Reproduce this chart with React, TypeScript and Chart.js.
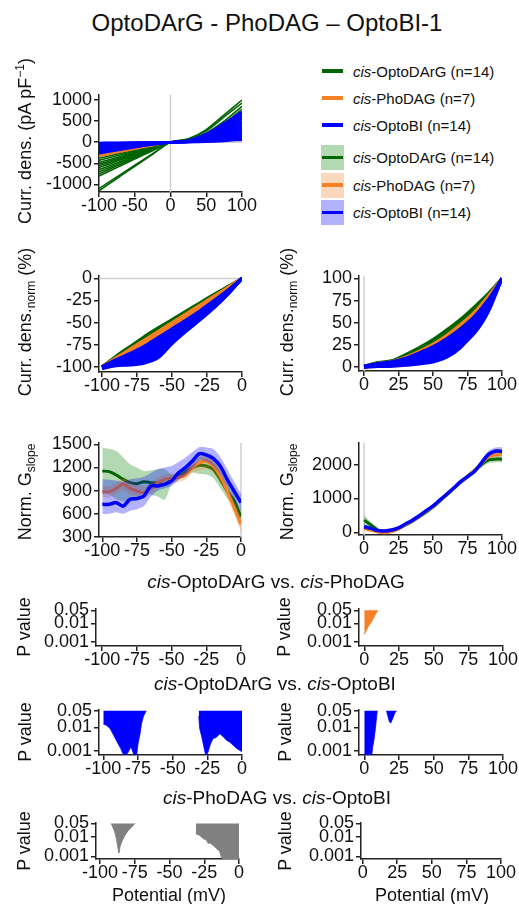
import React, { useEffect, useRef } from "react";
import { Chart, registerables } from "chart.js";

Chart.register(...registerables);

const FONT = "'Liberation Sans', Arial, sans-serif";
const GREEN = "rgb(0,100,0)";
const ORANGE = "rgb(245,128,37)";
const BLUE = "rgb(0,0,255)";
const GRAY = "rgb(128,128,128)";
const GREEN_BAND = "rgba(0,128,0,0.3)";
const ORANGE_BAND = "rgba(245,128,37,0.3)";
const BLUE_BAND = "rgba(0,0,255,0.3)";
const AXIS_COLOR = "#222";
const ZERO_COLOR = "#cfcfcf";

// ---------- tick labels ----------
const TICKS_IV_X = [-100, -50, 0, 50, 100];
const TICKS_IV_Y = [-1000, -500, 0, 500, 1000];
const TICKS_NEG_X = [-100, -75, -50, -25, 0];
const TICKS_POS_X = [0, 25, 50, 75, 100];
const TICKS_NORM_NEG_Y = [-100, -75, -50, -25, 0];
const TICKS_NORM_POS_Y = [0, 25, 50, 75, 100];
const TICKS_G_NEG_Y = [300, 600, 900, 1200, 1500];
const TICKS_G_POS_Y = [0, 1000, 2000];
const TICKS_P = [0.001, 0.01, 0.05];

// ---------- IV traces (pA/pF) ----------
const X_IV = [-100, -75, -50, -25, 0, 25, 50, 75, 100];
const IV_GREEN = [
  [-1150, -860, -570, -285, 0, 80, 300, 650, 1000],
  [-1100, -820, -545, -270, 0, 70, 270, 600, 930],
  [-800, -600, -400, -200, 0, 55, 220, 500, 850],
  [-750, -560, -375, -185, 0, 50, 200, 450, 780],
  [-700, -525, -350, -175, 0, 45, 180, 410, 700],
  [-650, -490, -325, -160, 0, 42, 170, 390, 680],
  [-600, -450, -300, -150, 0, 38, 150, 340, 600],
  [-560, -420, -280, -140, 0, 34, 135, 310, 560],
  [-520, -390, -260, -130, 0, 30, 120, 280, 500],
  [-480, -360, -240, -120, 0, 27, 105, 250, 450],
  [-430, -320, -215, -105, 0, 24, 95, 220, 400],
  [-380, -285, -190, -95, 0, 20, 80, 190, 350],
  [-330, -250, -165, -80, 0, 18, 70, 160, 300],
  [-300, -225, -150, -75, 0, 15, 60, 140, 250],
];
const IV_ORANGE = [
  [-340, -250, -165, -80, 0, 20, 80, 170, 300],
  [-310, -230, -150, -72, 0, 18, 70, 150, 270],
  [-280, -205, -135, -65, 0, 15, 60, 130, 240],
  [-250, -185, -120, -58, 0, 12, 50, 110, 210],
  [-220, -160, -105, -50, 0, 10, 40, 95, 180],
  [-200, -145, -95, -45, 0, 8, 35, 80, 150],
  [-180, -130, -85, -40, 0, 6, 30, 65, 120],
];
const IV_BLUE = [
  [-260, -190, -120, -55, 0, 40, 200, 450, 720],
  [-240, -175, -110, -50, 0, 35, 180, 420, 680],
  [-220, -160, -100, -45, 0, 30, 160, 380, 620],
  [-200, -145, -90, -40, 0, 25, 140, 340, 560],
  [-180, -130, -80, -35, 0, 25, 120, 300, 500],
  [-160, -115, -70, -30, 0, 20, 100, 260, 450],
  [-140, -100, -60, -25, 0, 20, 90, 230, 400],
  [-120, -85, -50, -22, 0, 15, 80, 200, 350],
  [-100, -70, -42, -18, 0, 12, 65, 170, 300],
  [-80, -55, -35, -15, 0, 10, 55, 140, 250],
  [-60, -42, -26, -11, 0, 8, 40, 110, 200],
  [-45, -32, -20, -8, 0, 6, 30, 80, 150],
  [-30, -20, -12, -5, 0, 4, 20, 55, 100],
  [-15, -10, -6, -3, 0, 2, 10, 30, 60],
];

// ---------- normalized current density (%) ----------
const X_NORM_NEG = [-100, -90, -80, -70, -60, -50, -40, -30, -20, -10, 0];
const NORM_NEG_GREEN = [
  [-100, -88, -77, -66, -56, -46.5, -37, -27.5, -18, -9, 0],
  [-100, -89, -78, -67.5, -57, -48, -38, -28.5, -19, -9.5, 0],
  [-100, -90, -79, -69, -59, -49, -39.5, -29.5, -20, -10, 0],
  [-100, -91, -81, -71, -61, -51, -41, -31, -21, -10.5, 0],
  [-100, -92, -83, -73, -63, -53, -43, -32.5, -22, -11, 0],
];
const NORM_NEG_ORANGE = [
  [-100, -90, -80, -70, -60, -50, -40, -30, -20, -10, 0],
  [-100, -91.5, -82, -72, -62, -52, -42, -31.5, -21, -10.5, 0],
  [-100, -93, -84, -75, -65, -55, -44.5, -33.5, -22.5, -11.5, 0],
  [-100, -94, -86, -77, -67, -57, -46, -35, -23.5, -12, 0],
];
const NORM_NEG_BLUE = [
  [-100, -92, -85, -77, -67, -57, -47, -36.5, -25, -13, 0],
  [-100, -92.7, -86.3, -79, -69.7, -58.9, -48.4, -37.7, -25.9, -13.5, 0],
  [-100.4, -93.4, -87.6, -81, -72.4, -60.8, -49.8, -38.8, -26.8, -14, 0],
  [-100.6, -94.1, -88.9, -83, -75.1, -62.7, -51.2, -40, -27.7, -14.5, 0],
  [-100.8, -94.8, -90.2, -85, -77.8, -64.6, -52.6, -41.1, -28.6, -15, 0],
  [-101, -95.5, -91.5, -87, -80.5, -66.5, -54, -42.3, -29.5, -15.5, 0],
  [-101.2, -96.2, -92.8, -88.5, -81.5, -68, -55.4, -43.4, -30.4, -16, 0],
  [-101.4, -96.9, -94.1, -90, -83, -69.5, -56.8, -44.6, -31.3, -16.5, 0],
  [-101.6, -97.6, -95.4, -92, -85, -71, -58, -45.7, -32.2, -17, 0],
  [-101.8, -98.3, -96.7, -94, -87.5, -72.5, -59, -46.5, -33, -17.5, 0],
  [-102, -99, -98, -96, -90, -74, -60, -47, -33.5, -18, 0],
];
const X_NORM_POS = [0, 10, 20, 30, 40, 50, 60, 70, 80, 90, 100];
const NORM_POS_GREEN = [
  [1, 5, 7, 14, 22, 31, 42, 54, 68, 83, 100],
  [1, 4.5, 6.5, 12, 20, 28, 39, 51, 65, 81, 100],
  [0.5, 4, 6, 11, 18, 26, 36, 48, 62, 80, 100],
  [0.5, 3.5, 5.5, 10, 16, 24, 34, 46, 60, 78, 100],
];
const NORM_POS_ORANGE = [
  [1, 4, 6, 11, 18, 26, 36, 48, 62, 80, 100],
  [0.5, 3.5, 5, 9, 15, 22, 31, 42, 56, 76, 100],
  [0, 2, 3, 6, 10, 16, 24, 35, 49, 71, 100],
  [0, 0.5, 1, 2, 4, 7, 13, 24, 40, 66, 100],
];
const NORM_POS_BLUE = [
  [1, 4, 6, 10, 16, 23, 32, 43, 57, 76, 100],
  [0.8, 3.5, 5.2, 9, 14.5, 21, 29.5, 40, 54, 74, 100],
  [0.5, 3, 4.5, 8, 13, 19, 27, 37, 51, 72, 100],
  [0.2, 2.5, 3.7, 7, 11.5, 17, 24.5, 34, 48, 69.5, 100],
  [0, 2, 3, 6, 10, 15, 22, 31, 45, 67, 100],
  [0, 1.5, 2.5, 5, 8.5, 13, 19.5, 28, 41.5, 64.5, 100],
  [0, 1, 2, 4, 7, 11, 17, 25, 38, 62, 100],
  [0, 0.7, 1.5, 3, 5.2, 8.2, 14, 23.5, 39, 64.5, 100],
  [0, 0.5, 1, 2, 3.5, 5.5, 11, 22, 40, 67, 100],
];

// ---------- normalized slope conductance (mean, upper, lower) ----------
const X_G_NEG = [-100, -95, -90, -85, -80, -75, -70, -65, -60, -55, -50, -45, -40, -35, -30, -25, -20, -15, -10, -5, 0];
const G_NEG_GREEN_MEAN = [1155, 1146, 1103, 1047, 1004, 991, 1017, 1004, 1000, 982, 1047, 1090, 1142, 1198, 1228, 1219, 1176, 1047, 896, 766, 560];
const G_NEG_GREEN_UP = [1457, 1440, 1414, 1330, 1241, 1200, 1155, 1160, 1176, 1180, 1110, 1140, 1195, 1260, 1340, 1330, 1290, 1160, 990, 850, 640];
const G_NEG_GREEN_LO = [853, 852, 792, 764, 767, 782, 879, 848, 824, 784, 984, 1040, 1089, 1136, 1116, 1108, 1062, 934, 802, 682, 480];
const G_NEG_ORANGE_MEAN = [887, 887, 930, 985, 930, 896, 874, 930, 1004, 1047, 1060, 1070, 1103, 1198, 1263, 1284, 1219, 1090, 896, 680, 464];
const G_NEG_ORANGE_UP = [960, 960, 1000, 1060, 1010, 970, 950, 1000, 1070, 1110, 1120, 1130, 1170, 1270, 1340, 1360, 1300, 1170, 980, 770, 560];
const G_NEG_ORANGE_LO = [815, 815, 860, 910, 850, 820, 800, 860, 940, 985, 1000, 1010, 1040, 1130, 1160, 1180, 1130, 1010, 810, 590, 370];
const G_NEG_BLUE_MEAN = [723, 723, 745, 700, 788, 797, 831, 960, 960, 982, 1025, 1133, 1198, 1284, 1379, 1362, 1319, 1219, 1047, 896, 745];
const G_NEG_BLUE_UP = [1047, 1040, 1030, 1020, 1047, 1060, 1080, 1130, 1176, 1200, 1219, 1270, 1330, 1400, 1465, 1460, 1440, 1340, 1180, 1020, 860];
const G_NEG_BLUE_LO = [594, 600, 620, 600, 640, 660, 700, 820, 900, 930, 960, 1040, 1100, 1180, 1290, 1280, 1220, 1120, 950, 790, 640];

const X_G_POS = [0, 5, 10, 15, 20, 25, 30, 35, 40, 45, 50, 55, 60, 65, 70, 75, 80, 85, 90, 95, 100];
const G_POS_GREEN_MEAN = [361, 215, 68, 20, 39, 117, 215, 330, 459, 600, 751, 930, 1112, 1300, 1483, 1650, 1824, 2000, 2137, 2166, 2166];
const G_POS_GREEN_UP = [511, 300, 130, 70, 90, 170, 275, 395, 525, 670, 825, 1005, 1190, 1380, 1565, 1735, 1910, 2090, 2230, 2260, 2260];
const G_POS_GREEN_LO = [211, 130, 10, -30, -10, 65, 155, 265, 395, 530, 680, 855, 1035, 1220, 1400, 1565, 1740, 1910, 2045, 2070, 2070];
const G_POS_ORANGE_MEAN = [117, 60, 10, -10, 20, 100, 220, 340, 470, 620, 760, 940, 1120, 1310, 1490, 1660, 1830, 2030, 2230, 2290, 2312];
const G_POS_ORANGE_UP = [180, 110, 55, 35, 65, 145, 270, 390, 520, 670, 810, 990, 1170, 1360, 1540, 1710, 1880, 2080, 2290, 2360, 2390];
const G_POS_ORANGE_LO = [55, 10, -35, -55, -25, 55, 170, 290, 420, 570, 710, 890, 1070, 1260, 1440, 1610, 1780, 1980, 2170, 2220, 2235];
const G_POS_BLUE_MEAN = [166, 117, 49, 40, 68, 130, 244, 360, 490, 640, 780, 960, 1130, 1310, 1500, 1650, 1800, 2050, 2300, 2400, 2400];
const G_POS_BLUE_UP = [230, 170, 95, 85, 110, 175, 290, 405, 535, 685, 825, 1005, 1175, 1355, 1545, 1700, 1860, 2130, 2400, 2510, 2520];
const G_POS_BLUE_LO = [100, 65, 5, -5, 25, 85, 198, 315, 445, 595, 735, 915, 1085, 1265, 1455, 1600, 1740, 1970, 2200, 2290, 2280];

// ---------- P values (significant stretches only) ----------
const P_DP_POS_X = [0, 1, 2, 3, 4, 5, 6, 7, 8, 9, 10];
const P_DP_POS_P = [0.0024, 0.0035, 0.0049, 0.007, 0.009, 0.011, 0.016, 0.021, 0.03, 0.041, 0.05];

const P_DB_NEG1_X = [-100, -97.5, -95, -92.5, -90, -87.5, -85, -82.5, -80, -77.5, -76, -75, -73.5, -72.5, -71, -69];
const P_DB_NEG1_P = [0.014, 0.012, 0.0087, 0.0046, 0.0024, 0.0013, 0.0006, 0.0008, 0.0015, 0.0006, 0.0006, 0.002, 0.0054, 0.014, 0.03, 0.05];
const P_DB_NEG2_X = [-31.2, -30.5, -29, -27.5, -26, -24.5, -23, -21, -18.5, -16, -13.5, -11, -9, -6.5, -4, -2, 0];
const P_DB_NEG2_P = [0.03, 0.009, 0.0039, 0.0015, 0.0006, 0.0009, 0.0018, 0.0033, 0.0038, 0.0054, 0.004, 0.0028, 0.0024, 0.0018, 0.0013, 0.0011, 0.00094];
const P_DB_POS1_X = [0, 1, 2, 3, 4, 5, 6, 7, 8, 9, 9.4];
const P_DB_POS1_P = [0.0004, 0.0004, 0.0004, 0.0004, 0.0004, 0.0004, 0.0014, 0.003, 0.0085, 0.032, 0.05];
const P_DB_POS2_X = [16, 17, 18, 19, 20, 21, 22, 23.3];
const P_DB_POS2_P = [0.05, 0.03, 0.018, 0.015, 0.02, 0.028, 0.04, 0.05];

const P_PB_NEG1_X = [-92, -91, -90, -89, -88, -87, -86.5, -86, -85.6, -84.4, -82.1, -79.7, -77.3, -74.9];
const P_PB_NEG1_P = [0.05, 0.034, 0.023, 0.014, 0.0065, 0.0025, 0.0015, 0.002, 0.0032, 0.0056, 0.012, 0.022, 0.032, 0.05];
const P_PB_NEG2_X = [-31.1, -30.5, -28.2, -25.8, -23.4, -22.2, -21, -18.7, -16.3, -13.9, -12.7, -11.5, -9.1, -6.7, -4, 0];
const P_PB_NEG2_P = [0.015, 0.014, 0.012, 0.0083, 0.0068, 0.0046, 0.005, 0.0038, 0.0026, 0.0018, 0.0009, 0.0007, 0.0005, 0.0005, 0.0005, 0.0005];

// ---------- layout constants ----------
const YW = 70;
const XH = 30;
const PADT = 12;
const PADR = 22;
const TICK_FONT = 18;

type Ax = { min: number; max: number; ticks: number[]; log?: boolean };
type Area = { L: number; R: number; T: number; B: number };

const pts = (xs: number[], ys: number[]) => xs.map((x, i) => ({ x, y: ys[i] }));

function traces(xs: number[], list: number[][], color: string, width: number) {
  return list.map((ys) => ({
    data: pts(xs, ys),
    borderColor: color,
    borderWidth: width,
    pointRadius: 0,
    fill: false,
    cubicInterpolationMode: "monotone",
  }));
}

function band(xs: number[], up: number[], lo: number[], color: string) {
  return [
    { data: pts(xs, up), borderWidth: 0, borderColor: "transparent", pointRadius: 0, fill: "+1", backgroundColor: color, tension: 0.3 },
    { data: pts(xs, lo), borderWidth: 0, borderColor: "transparent", pointRadius: 0, fill: false, tension: 0.3 },
  ];
}

function meanLine(xs: number[], ys: number[], color: string, width = 3) {
  return { data: pts(xs, ys), borderColor: color, borderWidth: width, pointRadius: 0, fill: false, tension: 0.3 };
}

function pArea(xs: number[], ps: number[], color: string) {
  return { data: pts(xs, ps), borderColor: color, borderWidth: 0.8, backgroundColor: color, pointRadius: 0, fill: { value: 0.05 } };
}

const zeroLines = {
  id: "zeroLines",
  beforeDatasetsDraw(chart: any, _args: any, opts: any) {
    const { ctx, chartArea, scales } = chart;
    ctx.save();
    ctx.strokeStyle = ZERO_COLOR;
    ctx.lineWidth = 1.5;
    if (opts.v) {
      const px = scales.x.getPixelForValue(0);
      ctx.beginPath();
      ctx.moveTo(px, chartArea.top);
      ctx.lineTo(px, chartArea.bottom);
      ctx.stroke();
    }
    if (opts.h) {
      const py = scales.y.getPixelForValue(0);
      ctx.beginPath();
      ctx.moveTo(chartArea.left, py);
      ctx.lineTo(chartArea.right, py);
      ctx.stroke();
    }
    ctx.restore();
  },
};

function scaleOpts(ax: Ax, which: "x" | "y") {
  return {
    type: ax.log ? "logarithmic" : "linear",
    position: which === "x" ? "bottom" : "left",
    min: ax.min,
    max: ax.max,
    bounds: "data",
    border: { display: true, color: AXIS_COLOR, width: 1.5 },
    grid: { display: true, drawOnChartArea: false, drawTicks: true, tickLength: 5, color: AXIS_COLOR, lineWidth: 1.5 },
    ticks: {
      autoSkip: false,
      maxRotation: 0,
      minRotation: 0,
      padding: which === "x" ? -2 : 2,
      color: "#111",
      font: { family: FONT, size: TICK_FONT },
      callback: (v: number) => String(v),
    },
    afterBuildTicks: (s: any) => {
      s.ticks = ax.ticks.map((v) => ({ value: v }));
    },
    afterFit: (s: any) => {
      if (which === "y") s.width = YW;
      else s.height = XH;
    },
  };
}

type PanelProps = { area: Area; x: Ax; y: Ax; build: () => any[]; zero?: { v?: boolean; h?: boolean } };

function Panel({ area, x, y, build, zero }: PanelProps) {
  const ref = useRef<HTMLCanvasElement>(null);
  const w = Math.round(area.R - area.L) + YW + PADR;
  const h = Math.round(area.B - area.T) + PADT + XH;
  useEffect(() => {
    const ds = build();
    ds.forEach((d: any, i: number) => {
      d.order = ds.length - i;
    });
    const chart = new Chart(ref.current as HTMLCanvasElement, {
      type: "line",
      data: { datasets: ds },
      plugins: [zeroLines],
      options: {
        animation: false,
        responsive: false,
        devicePixelRatio: 1,
        events: [],
        layout: { padding: { left: 0, right: PADR, top: PADT, bottom: 0 } },
        scales: { x: scaleOpts(x, "x"), y: scaleOpts(y, "y") } as any,
        plugins: {
          legend: { display: false },
          tooltip: { enabled: false },
          zeroLines: zero || {},
        } as any,
      },
    } as any);
    return () => chart.destroy();
  }, []);
  return (
    <canvas
      ref={ref}
      width={w}
      height={h}
      style={{ position: "absolute", left: Math.round(area.L) - YW, top: Math.round(area.T) - PADT, width: w, height: h }}
    />
  );
}

function Label({ x, y, size, rotate, children }: { x: number; y: number; size: number; rotate?: boolean; children: any }) {
  return (
    <div
      style={{
        position: "absolute",
        left: x,
        top: y,
        transform: `translate(-50%,-50%)${rotate ? " rotate(-90deg)" : ""}`,
        fontFamily: FONT,
        fontSize: size,
        lineHeight: 1,
        whiteSpace: "nowrap",
        color: "#111",
      }}
    >
      {children}
    </div>
  );
}

const Sub = ({ children }: { children: any }) => (
  <span style={{ fontSize: 12, position: "relative", top: 4 }}>{children}</span>
);

const LEGEND_ROWS = [
  { name: "OptoDArG (n=14)", color: GREEN, band: null as string | null, y: 71 },
  { name: "PhoDAG (n=7)", color: ORANGE, band: null as string | null, y: 98 },
  { name: "OptoBI (n=14)", color: BLUE, band: null as string | null, y: 125 },
  { name: "OptoDArG (n=14)", color: GREEN, band: GREEN_BAND, y: 157.5 },
  { name: "PhoDAG (n=7)", color: ORANGE, band: ORANGE_BAND, y: 185 },
  { name: "OptoBI (n=14)", color: BLUE, band: BLUE_BAND, y: 212.5 },
];

const AX_P1 = { min: 0.000596, max: 0.0607, ticks: TICKS_P, log: true };
const AX_P2 = { min: 0.00068, max: 0.055, ticks: TICKS_P, log: true };
const AX_P3 = { min: 0.00074, max: 0.0542, ticks: TICKS_P, log: true };

export default function App() {
  return (
    <div style={{ position: "absolute", left: 0, top: 0, width: 519, height: 904, background: "#fff", overflow: "hidden" }}>
      {/* IV */}
      <Panel
        area={{ L: 99, R: 242, T: 94, B: 192 }}
        x={{ min: -100, max: 100, ticks: TICKS_IV_X }}
        y={{ min: -1180, max: 1125, ticks: TICKS_IV_Y }}
        zero={{ v: true, h: true }}
        build={() => [
          ...traces(X_IV, IV_GREEN, GREEN, 1.6),
          ...traces(X_IV, IV_ORANGE, ORANGE, 1.6),
          ...traces(X_IV, IV_BLUE, BLUE, 2.4),
        ]}
      />
      {/* normalized negative */}
      <Panel
        area={{ L: 99, R: 242, T: 275, B: 372 }}
        x={{ min: -102.2, max: 0, ticks: TICKS_NEG_X }}
        y={{ min: -106, max: 3, ticks: TICKS_NORM_NEG_Y }}
        zero={{ h: true }}
        build={() => [
          ...traces(X_NORM_NEG, NORM_NEG_GREEN, GREEN, 3),
          ...traces(X_NORM_NEG, NORM_NEG_ORANGE, ORANGE, 3),
          ...traces(X_NORM_NEG, NORM_NEG_BLUE, BLUE, 3),
        ]}
      />
      {/* normalized positive */}
      <Panel
        area={{ L: 359, R: 502, T: 275, B: 371 }}
        x={{ min: -3.7, max: 100, ticks: TICKS_POS_X }}
        y={{ min: -4.5, max: 103, ticks: TICKS_NORM_POS_Y }}
        zero={{ v: true }}
        build={() => [
          ...traces(X_NORM_POS, NORM_POS_GREEN, GREEN, 3),
          ...traces(X_NORM_POS, NORM_POS_ORANGE, ORANGE, 3),
          ...traces(X_NORM_POS, NORM_POS_BLUE, BLUE, 3),
        ]}
      />
      {/* G slope negative */}
      <Panel
        area={{ L: 99, R: 241, T: 442, B: 537 }}
        x={{ min: -102.4, max: 0, ticks: TICKS_NEG_X }}
        y={{ min: 300, max: 1520, ticks: TICKS_G_NEG_Y }}
        zero={{ v: true }}
        build={() => [
          ...band(X_G_NEG, G_NEG_GREEN_UP, G_NEG_GREEN_LO, GREEN_BAND),
          meanLine(X_G_NEG, G_NEG_GREEN_MEAN, GREEN),
          ...band(X_G_NEG, G_NEG_ORANGE_UP, G_NEG_ORANGE_LO, ORANGE_BAND),
          meanLine(X_G_NEG, G_NEG_ORANGE_MEAN, ORANGE),
          ...band(X_G_NEG, G_NEG_BLUE_UP, G_NEG_BLUE_LO, BLUE_BAND),
          meanLine(X_G_NEG, G_NEG_BLUE_MEAN, BLUE, 3.5),
        ]}
      />
      {/* G slope positive */}
      <Panel
        area={{ L: 359, R: 502, T: 442, B: 535 }}
        x={{ min: -3.7, max: 100, ticks: TICKS_POS_X }}
        y={{ min: -80, max: 2650, ticks: TICKS_G_POS_Y }}
        zero={{ v: true }}
        build={() => [
          ...band(X_G_POS, G_POS_GREEN_UP, G_POS_GREEN_LO, GREEN_BAND),
          ...band(X_G_POS, G_POS_ORANGE_UP, G_POS_ORANGE_LO, ORANGE_BAND),
          ...band(X_G_POS, G_POS_BLUE_UP, G_POS_BLUE_LO, BLUE_BAND),
          meanLine(X_G_POS, G_POS_GREEN_MEAN, GREEN),
          meanLine(X_G_POS, G_POS_ORANGE_MEAN, ORANGE),
          meanLine(X_G_POS, G_POS_BLUE_MEAN, BLUE, 3.5),
        ]}
      />
      {/* P: OptoDArG vs PhoDAG */}
      <Panel area={{ L: 96, R: 241, T: 608, B: 646 }} x={{ min: -104.5, max: 0, ticks: TICKS_NEG_X }} y={AX_P1} build={() => []} />
      <Panel
        area={{ L: 359, R: 503, T: 608, B: 646 }}
        x={{ min: -3.8, max: 100, ticks: TICKS_POS_X }}
        y={AX_P1}
        build={() => [pArea(P_DP_POS_X, P_DP_POS_P, ORANGE)]}
      />
      {/* P: OptoDArG vs OptoBI */}
      <Panel
        area={{ L: 99, R: 242, T: 709, B: 755 }}
        x={{ min: -103.1, max: 0, ticks: TICKS_NEG_X }}
        y={AX_P2}
        build={() => [pArea(P_DB_NEG1_X, P_DB_NEG1_P, BLUE), pArea(P_DB_NEG2_X, P_DB_NEG2_P, BLUE)]}
      />
      <Panel
        area={{ L: 359, R: 503, T: 709, B: 755 }}
        x={{ min: -3.8, max: 100, ticks: TICKS_POS_X }}
        y={AX_P2}
        build={() => [pArea(P_DB_POS1_X, P_DB_POS1_P, BLUE), pArea(P_DB_POS2_X, P_DB_POS2_P, BLUE)]}
      />
      {/* P: PhoDAG vs OptoBI */}
      <Panel
        area={{ L: 96, R: 239, T: 822, B: 859 }}
        x={{ min: -102.9, max: 0, ticks: TICKS_NEG_X }}
        y={AX_P3}
        build={() => [pArea(P_PB_NEG1_X, P_PB_NEG1_P, GRAY), pArea(P_PB_NEG2_X, P_PB_NEG2_P, GRAY)]}
      />
      <Panel area={{ L: 361, R: 501, T: 822, B: 859 }} x={{ min: -1.2, max: 100, ticks: TICKS_POS_X }} y={AX_P3} build={() => []} />

      {/* Title */}
      <Label x={267} y={23} size={24}>OptoDArG - PhoDAG – OptoBI-1</Label>

      {/* Legend */}
      {LEGEND_ROWS.map((r, i) => (
        <React.Fragment key={i}>
          {r.band && (
            <div style={{ position: "absolute", left: 321, top: r.y - 12.5, width: 23, height: 25, background: r.band }} />
          )}
          <div style={{ position: "absolute", left: 322, top: r.y - 1.75, width: 21, height: 3.5, background: r.color }} />
          <div
            style={{
              position: "absolute",
              left: 353,
              top: r.y - 7.5,
              fontFamily: FONT,
              fontSize: 15,
              lineHeight: "15px",
              whiteSpace: "nowrap",
              color: "#111",
            }}
          >
            <i>cis</i>-{r.name}
          </div>
        </React.Fragment>
      ))}

      {/* Axis titles */}
      <Label x={25} y={141} size={18} rotate>
        Curr. dens. (pA pF<span style={{ fontSize: 12, position: "relative", top: -7 }}>−1</span>)
      </Label>
      <Label x={25} y={322} size={18} rotate>
        Curr. dens.<Sub>norm</Sub> (%)
      </Label>
      <Label x={287} y={322} size={18} rotate>
        Curr. dens.<Sub>norm</Sub> (%)
      </Label>
      <Label x={25} y={492} size={18} rotate>
        Norm. G<Sub>slope</Sub>
      </Label>
      <Label x={287} y={492} size={18} rotate>
        Norm. G<Sub>slope</Sub>
      </Label>
      <Label x={24} y={627} size={18} rotate>P value</Label>
      <Label x={284} y={627} size={18} rotate>P value</Label>
      <Label x={25} y={732} size={18} rotate>P value</Label>
      <Label x={285} y={732} size={18} rotate>P value</Label>
      <Label x={24} y={841} size={18} rotate>P value</Label>
      <Label x={285} y={841} size={18} rotate>P value</Label>

      {/* Section titles */}
      <Label x={276} y={581} size={19}>
        <i>cis</i>-OptoDArG vs. <i>cis</i>-PhoDAG
      </Label>
      <Label x={275} y={683} size={19}>
        <i>cis</i>-OptoDArG vs. <i>cis</i>-OptoBI
      </Label>
      <Label x={277} y={797} size={19}>
        <i>cis</i>-PhoDAG vs. <i>cis</i>-OptoBI
      </Label>

      {/* x-axis titles */}
      <Label x={169} y={895} size={18}>Potential (mV)</Label>
      <Label x={432} y={895} size={18}>Potential (mV)</Label>
    </div>
  );
}
